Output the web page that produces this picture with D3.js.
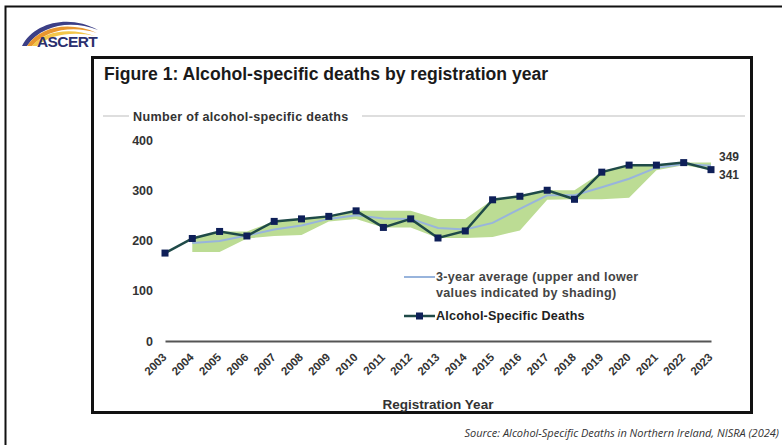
<!DOCTYPE html>
<html>
<head>
<meta charset="utf-8">
<script src="https://cdn.jsdelivr.net/npm/d3@7/dist/d3.min.js"></script>
<style>
  html, body { margin: 0; padding: 0; background: #fff; }
  svg { display: block; }
  text { font-family: "Liberation Sans", Arial, sans-serif; }
</style>
</head>
<body>
<svg id="chart" width="782" height="445"></svg>
<script>
// Registration years shown on the x axis
const years = ["2003","2004","2005","2006","2007","2008","2009","2010","2011","2012","2013",
               "2014","2015","2016","2017","2018","2019","2020","2021","2022","2023"];

// Alcohol-specific deaths per registration year
const deaths = [175, 204, 218, 209, 238, 243, 248, 259, 226, 243, 205,
                219, 281, 288, 300, 282, 336, 350, 350, 355, 341];

// 3-year average and its lower / upper values (from 2004 onwards)
const avgYears = years.slice(1);
const avg3   = [195, 199, 210, 222, 230, 243, 250, 244, 243, 225, 222, 235, 263, 290, 290, 306, 323, 345, 352, 349];
const lower3 = [177, 177, 204, 209, 211, 238, 243, 226, 226, 205, 205, 207, 220, 281, 282, 282, 285, 340, 350, 341];
const upper3 = [204, 218, 218, 238, 243, 248, 259, 259, 259, 243, 243, 281, 288, 300, 300, 336, 350, 350, 355, 355];

const yTicks = [0, 100, 200, 300, 400];
const endLabels = [{ text: "349", value: 349, dy: -5 }, { text: "341", value: 341, dy: 9 }];
const legendItems = ["3-year average (upper and lower|values indicated by shading)", "Alcohol-Specific Deaths"];

const svg = d3.select("#chart");

// Page frame
svg.append("rect").attr("x", 0).attr("y", 0).attr("width", 782).attr("height", 445).attr("fill", "#fff");
svg.append("path").attr("d", "M5.5,445 V6.5 H782").attr("fill", "none").attr("stroke", "#111").attr("stroke-width", 2);

// ASCERT logo: swoosh arcs and wordmark
const logo = svg.append("g");
logo.append("path").attr("d", "M22,46 C34,22 70,14 98,30 C72,20 42,24 27,46 Z").attr("fill", "#3c3f86");
logo.append("path").attr("d", "M27,46 C40,26 70,21 97,33 C72,25 46,30 32,46 Z").attr("fill", "#e8962e");
logo.append("path").attr("d", "M32,46 C44,31 70,27 95,36 C72,31 50,35 37,46 Z").attr("fill", "#f3c64a");
logo.append("text").attr("x", 37).attr("y", 47).attr("font-size", 15.5).attr("font-weight", 900)
  .attr("fill", "#2b2f6e").attr("letter-spacing", -0.6).text("ASCERT");

// Chart box
svg.append("rect").attr("x", 92.5).attr("y", 57.5).attr("width", 659).attr("height", 355)
  .attr("fill", "#fff").attr("stroke", "#111").attr("stroke-width", 3);

svg.append("text").attr("x", 104).attr("y", 80).attr("font-size", 17.6).attr("font-weight", "bold")
  .attr("fill", "#1a1a1a").text("Figure 1: Alcohol-specific deaths by registration year");

// Y axis title with its rule
svg.append("line").attr("x1", 103).attr("x2", 745).attr("y1", 116).attr("y2", 116)
  .attr("stroke", "#bdbdbd").attr("stroke-width", 1);
svg.append("rect").attr("x", 129).attr("y", 107).attr("width", 233).attr("height", 15).attr("fill", "#fff");
svg.append("text").attr("x", 133).attr("y", 121).attr("font-size", 12.6).attr("font-weight", "bold")
  .attr("letter-spacing", 0.3).attr("fill", "#333").text("Number of alcohol-specific  deaths");

// Scales
const x = d3.scalePoint().domain(years).range([165, 711]);
const y = d3.scaleLinear().domain([0, 400]).range([341, 140]);

// Y axis labels
const yAxis = svg.append("g").attr("transform", "translate(156,0)")
  .call(d3.axisLeft(y).tickValues(yTicks).tickSize(0).tickPadding(3));
yAxis.select(".domain").remove();
yAxis.selectAll("text").attr("font-size", 12.5).attr("font-weight", "bold").attr("fill", "#333")
  .style("font-family", "'Liberation Sans', Arial, sans-serif");

// Shaded band between lower and upper values
const band = avgYears.map((yr, i) => ({ yr, lo: lower3[i], hi: upper3[i], avg: avg3[i] }));
svg.append("path").datum(band)
  .attr("d", d3.area().x(d => x(d.yr)).y0(d => y(d.lo)).y1(d => y(d.hi)))
  .attr("fill", "#bcdc94");

// 3-year average line
svg.append("path").datum(band)
  .attr("d", d3.line().x(d => x(d.yr)).y(d => y(d.avg)))
  .attr("fill", "none").attr("stroke", "#98b4dc").attr("stroke-width", 2);

// X axis
const xAxis = svg.append("g").attr("transform", "translate(0,341)")
  .call(d3.axisBottom(x).tickSize(0).tickSizeOuter(0));
xAxis.select(".domain").attr("stroke", "#555").attr("stroke-width", 2);
xAxis.selectAll("text")
  .attr("x", 0).attr("y", 0).attr("dy", "0.35em")
  .attr("text-anchor", "end")
  .attr("transform", "translate(-1,14) rotate(-45)")
  .attr("font-size", 11.5).attr("font-weight", "bold").attr("fill", "#333")
  .style("font-family", "'Liberation Sans', Arial, sans-serif");

svg.append("text").attr("x", 438).attr("y", 409).attr("text-anchor", "middle")
  .attr("font-size", 13.5).attr("font-weight", "bold").attr("fill", "#333").text("Registration Year");

// Deaths line and markers
const pts = years.map((yr, i) => ({ yr, v: deaths[i] }));
svg.append("path").datum(pts)
  .attr("d", d3.line().x(d => x(d.yr)).y(d => y(d.v)))
  .attr("fill", "none").attr("stroke", "#1f4a48").attr("stroke-width", 2.5);
svg.append("g").selectAll("rect").data(pts).join("rect")
  .attr("x", d => x(d.yr) - 3.5).attr("y", d => y(d.v) - 3.5)
  .attr("width", 7).attr("height", 7).attr("fill", "#0e1f58");

// End-of-series value labels
svg.append("g").selectAll("text").data(endLabels).join("text")
  .attr("x", 719).attr("y", d => y(d.value) + d.dy)
  .attr("font-size", 12).attr("font-weight", "bold").attr("fill", "#333").text(d => d.text);

// Legend
const lg = svg.append("g");
lg.append("line").attr("x1", 404).attr("x2", 435).attr("y1", 277).attr("y2", 277)
  .attr("stroke", "#98b4dc").attr("stroke-width", 2);
const firstLines = legendItems[0].split("|");
lg.append("text").attr("x", 436).attr("y", 281).attr("font-size", 12.6).attr("font-weight", "bold")
  .attr("letter-spacing", 0.3).attr("fill", "#444").text(firstLines[0]);
lg.append("text").attr("x", 436).attr("y", 297).attr("font-size", 12.6).attr("font-weight", "bold")
  .attr("letter-spacing", 0.3).attr("fill", "#444").text(firstLines[1]);
lg.append("line").attr("x1", 404).attr("x2", 435).attr("y1", 316).attr("y2", 316)
  .attr("stroke", "#1f4a48").attr("stroke-width", 2.5);
lg.append("rect").attr("x", 416).attr("y", 312.5).attr("width", 7).attr("height", 7).attr("fill", "#0e1f58");
lg.append("text").attr("x", 436).attr("y", 320).attr("font-size", 12.6).attr("font-weight", "bold")
  .attr("letter-spacing", 0.2).attr("fill", "#222").text(legendItems[1]);

// Source note, right-aligned to the page edge
svg.append("text").attr("x", 779).attr("y", 437).attr("text-anchor", "end")
  .attr("font-size", 11).attr("font-style", "italic")
  .attr("fill", "#333").style("font-family", "'Open Sans', 'Noto Sans', sans-serif")
  .text("Source: Alcohol-Specific Deaths in Northern Ireland, NISRA (2024)");
</script>
</body>
</html>
